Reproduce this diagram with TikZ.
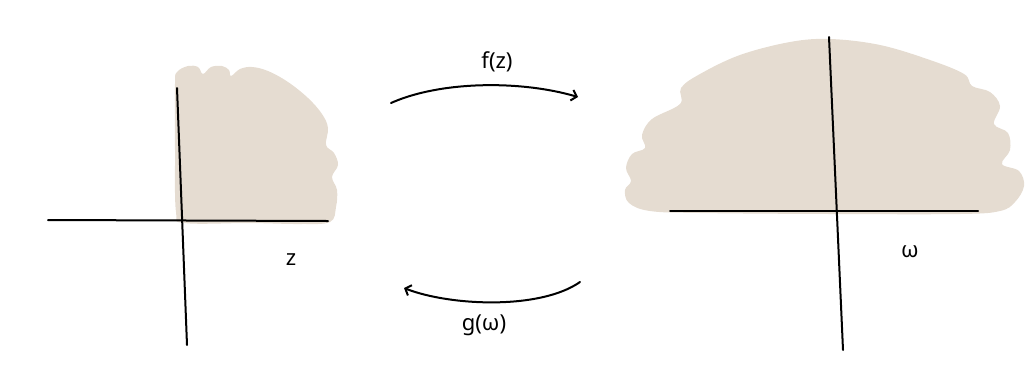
\documentclass[tikz,border=0pt]{standalone}
\usepackage{fontspec}
\setmainfont{Noto Sans}
\usetikzlibrary{arrows.meta}
\definecolor{blob}{RGB}{229,220,209}
\tikzset{
  region/.style={fill=blob, draw=none},
  axis/.style={line width=2pt, black, line cap=round},
  maparrow/.style={line width=2pt, black, line cap=round, -{Straight Barb[length=5pt,width=11pt,line width=2pt]}},
  lbl/.style={font=\fontsize{22}{24}\selectfont, inner sep=0pt}
}
\begin{document}
\begin{tikzpicture}[x=1pt,y=-1pt]
\useasboundingbox (0,0) rectangle (1032,389);
% left region
\fill[region] plot[smooth cycle, tension=0.6] coordinates {
 (175,84) (177,72) (188,66) (198,67) (203,74) (211,67) (222,66) (229,70) (231,76) (240,69)
 (252,67) (268,71) (288,82) (308,98) (322,114) (328,128) (326,145) (334,153) (338,165)
 (332,177) (337,190) (336,207) (330,222) (300,224) (250,223) (185,223) (176,212) (175,150)};
% right region
\fill[region] plot[smooth cycle, tension=0.6] coordinates {
 (650,211) (629,203) (625,190) (631,181) (626,168) (632,154) (645,148) (642,135) (652,119)
 (680,104) (681,88) (700,74) (740,55) (790,42) (830,39) (880,45) (930,60) (964,74) (972,86)
 (990,92) (1000,106) (994,124) (1008,133) (1010,150) (1002,164) (1019,171) (1024,186)
 (1015,202) (1000,211) (960,214) (830,214) (700,213)};
% left axes
\coordinate (zxl) at (48,220);
\coordinate (zxr) at (328,221);
\coordinate (zyt) at (177,88);
\coordinate (zyb) at (187,345);
\draw[axis] (zxl) -- (zxr);
\draw[axis] (zyt) -- (zyb);
% right axes
\coordinate (wxl) at (670,211);
\coordinate (wxr) at (978,211);
\coordinate (wyt) at (829,37);
\coordinate (wyb) at (843,350);
\draw[axis] (wxl) -- (wxr);
\draw[axis] (wyt) -- (wyb);
% arrows
\coordinate (fs) at (391,103);
\coordinate (fe) at (578,97);
\draw[maparrow] (fs) .. controls (440,81) and (520,80) .. (fe);
\coordinate (gs) at (580,282);
\coordinate (ge) at (404,288);
\draw[maparrow] (gs) .. controls (540,310) and (450,306) .. (ge);
% labels
\node[lbl] (flabel) at (497,62) {f(z)};
\node[lbl] (glabel) at (484,325) {g(ω)};
\node[lbl] (zlabel) at (291,260) {z};
\node[lbl] (wlabel) at (910,252) {ω};
\end{tikzpicture}
\end{document}
